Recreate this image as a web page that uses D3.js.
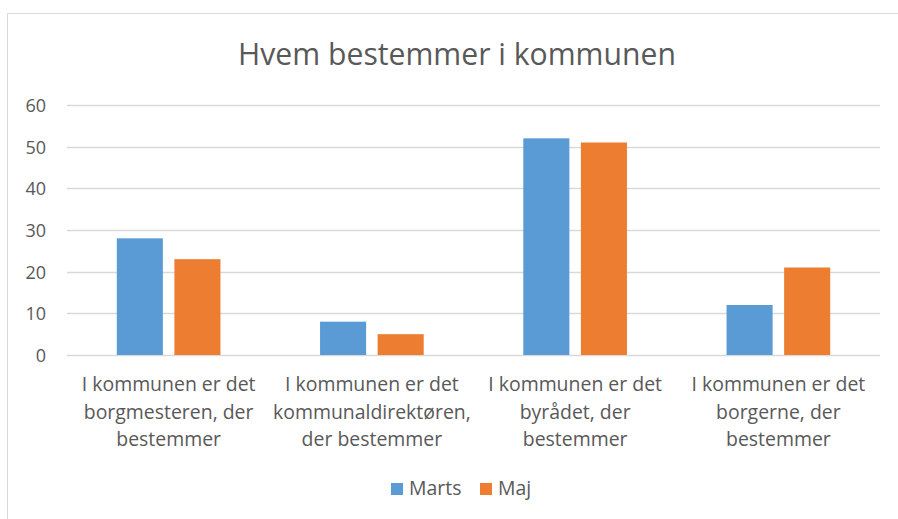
<!DOCTYPE html>
<html><head><meta charset="utf-8">
<script src="https://cdn.jsdelivr.net/npm/d3@7"></script>
<style>body{margin:0;background:#fff;} svg{display:block;}</style>
</head><body>
<svg id="c" width="898" height="519"></svg>
<script>
const categories = [
  ["I kommunen er det", "borgmesteren, der", "bestemmer"],
  ["I kommunen er det", "kommunaldirektøren,", "der bestemmer"],
  ["I kommunen er det", "byrådet, der", "bestemmer"],
  ["I kommunen er det", "borgerne, der", "bestemmer"]
];
const seriesNames = ["Marts", "Maj"];
const marts = [28, 8, 52, 12];
const maj = [23, 5, 51, 21];
const yTicks = [0, 10, 20, 30, 40, 50, 60];
const title = "Hvem bestemmer i kommunen";

const colors = ["#5B9BD5", "#ED7D31"];
const textColor = "#595959";
const font = "'Open Sans', sans-serif";

const svg = d3.select("#c");
svg.append("rect").attr("x", 7.5).attr("y", 13.5).attr("width", 1000).attr("height", 1000)
  .attr("fill", "#fff").attr("stroke", "#D9D9D9").attr("stroke-width", 1);

const pL = 67, pR = 880, pT = 105, pB = 355;
const x0 = d3.scaleBand().domain(d3.range(categories.length)).range([pL, pR]).paddingInner(0.49).paddingOuter(0.245);
const x1 = d3.scaleBand().domain([0, 1]).range([0, x0.bandwidth()]).paddingInner(0.2);
const y = d3.scaleLinear().domain([0, 60]).range([pB, pT]);

function fit(sel, target) {
  const w = sel.node().getComputedTextLength();
  const fs = parseFloat(sel.attr("font-size"));
  sel.attr("font-size", (fs * target / w).toFixed(2));
}

// grid
svg.append("g").selectAll("line").data(yTicks).join("line")
  .attr("x1", pL).attr("x2", pR)
  .attr("y1", d => Math.round(y(d)) + 0.5).attr("y2", d => Math.round(y(d)) + 0.5)
  .attr("stroke", "#D9D9D9").attr("stroke-width", 1.3);

// y axis labels
const yAxis = d3.axisLeft(y).tickValues(yTicks).tickSize(0).tickPadding(0);
const ga = svg.append("g").attr("transform", `translate(46,0)`).call(yAxis);
ga.select(".domain").remove();
ga.selectAll("text").attr("font-family", font).attr("font-size", 18).attr("fill", textColor).attr("dy", "0.36em");

// bars
const series = [marts, maj];
const g = svg.append("g");
categories.forEach((c, i) => {
  series.forEach((s, j) => {
    g.append("rect")
      .attr("x", x0(i) + x1(j)).attr("width", x1.bandwidth())
      .attr("y", y(s[i])).attr("height", y(0) - y(s[i]))
      .attr("fill", colors[j]);
  });
});

// category labels
const lab = svg.append("g");
categories.forEach((c, i) => {
  const cx = x0(i) + x0.bandwidth() / 2;
  c.forEach((line, k) => {
    lab.append("text").attr("x", cx).attr("y", 391 + k * 27.5)
      .attr("text-anchor", "middle").attr("font-family", font).attr("font-size", 17)
      .attr("fill", textColor).text(line);
  });
});
const probe = lab.select("text");
const w0 = probe.node().getComputedTextLength();
const catFs = 17 * 174 / w0;
lab.selectAll("text").attr("font-size", catFs.toFixed(2));

// title
const t = svg.append("text").attr("x", 457).attr("y", 65).attr("text-anchor", "middle")
  .attr("font-family", font).attr("font-size", 28).attr("fill", textColor).text(title);
fit(t, 438);

// legend
const leg = svg.append("g");
const legX = [391, 480];
seriesNames.forEach((n, j) => {
  leg.append("rect").attr("x", legX[j]).attr("y", 483).attr("width", 12).attr("height", 12).attr("fill", colors[j]);
  leg.append("text").attr("x", legX[j] + 18).attr("y", 495).attr("font-family", font)
    .attr("font-size", catFs.toFixed(2)).attr("fill", textColor).text(n);
});
</script>
</body></html>
